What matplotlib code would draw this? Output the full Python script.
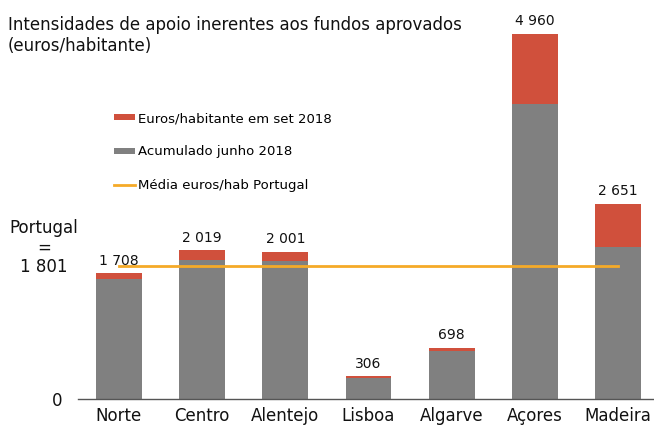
import matplotlib.pyplot as plt
import matplotlib.transforms as mtransforms

# Data
regioes = ['Norte', 'Centro', 'Alentejo', 'Lisboa', 'Algarve', 'Açores', 'Madeira']
acumulado_jun = [1630, 1889, 1879, 290, 656, 4008, 2065]
total_set = [1708, 2019, 2001, 306, 698, 4960, 2651]
rotulos = ['1 708', '2 019', '2 001', '306', '698', '4 960', '2 651']
media_portugal = 1801

acrescimo = [t - a for t, a in zip(total_set, acumulado_jun)]

cor_vermelho = '#D0503C'
cor_cinza = '#808080'
cor_laranja = '#F5AA28'

fig = plt.figure(figsize=(6.54, 4.28), dpi=100)
ax = fig.add_axes([78 / 654, 1 - 399 / 428, 576 / 654, 379 / 428])

x = range(len(regioes))
b_cinza = ax.bar(x, acumulado_jun, width=0.55, color=cor_cinza, zorder=2)
b_verm = ax.bar(x, acrescimo, bottom=acumulado_jun, width=0.55, color=cor_vermelho, zorder=2)
linha, = ax.plot([0, len(regioes) - 1], [media_portugal, media_portugal],
                 color=cor_laranja, lw=2, zorder=3)

# value labels on top of each bar
for xi, v, txt in zip(x, total_set, rotulos):
    ax.annotate(txt, (xi, v), xytext=(0, 4), textcoords='offset points',
                ha='center', va='bottom', fontsize=10, color='#111111')

ax.set_xlim(-0.49, 6.43)
ax.set_ylim(0, (399 - 20) / (365 / 4960))

ax.set_xticks(list(x))
ax.set_xticklabels(regioes, fontsize=12)
ax.set_yticks([0])
ax.set_yticklabels(['0'], fontsize=12)
ax.tick_params(axis='both', length=0, colors='#111111')
ax.tick_params(axis='x', pad=6)
ax.tick_params(axis='y', pad=11)

for s in ['top', 'right', 'left']:
    ax.spines[s].set_visible(False)
ax.spines['bottom'].set_color('#555555')
ax.spines['bottom'].set_linewidth(1)

# "Portugal = 1 801" label beside the average line
trans = mtransforms.blended_transform_factory(ax.transAxes, ax.transData)
ax.annotate('Portugal\n=\n1 801', (-0.059, media_portugal), xycoords=trans,
            xytext=(0, 13.5), textcoords='offset points', ha='center', va='center',
            fontsize=12, linespacing=1.1, color='#111111', annotation_clip=False)

fig.text(8 / 654, 1 - 16 / 428,
         'Intensidades de apoio inerentes aos fundos aprovados\n(euros/habitante)',
         ha='left', va='top', fontsize=12, linespacing=1.2, color='#111111')

ax.legend([b_verm, b_cinza, linha],
          ['Euros/habitante em set 2018', 'Acumulado junho 2018', 'Média euros/hab Portugal'],
          loc='upper left', bbox_to_anchor=(114 / 654, 1 - 112 / 428),
          bbox_transform=fig.transFigure, frameon=False, fontsize=9.5,
          handlelength=1.6, handleheight=0.3, handletextpad=0.2,
          labelspacing=1.55, borderpad=0, borderaxespad=0)

fig.savefig('out.png', dpi=100)
